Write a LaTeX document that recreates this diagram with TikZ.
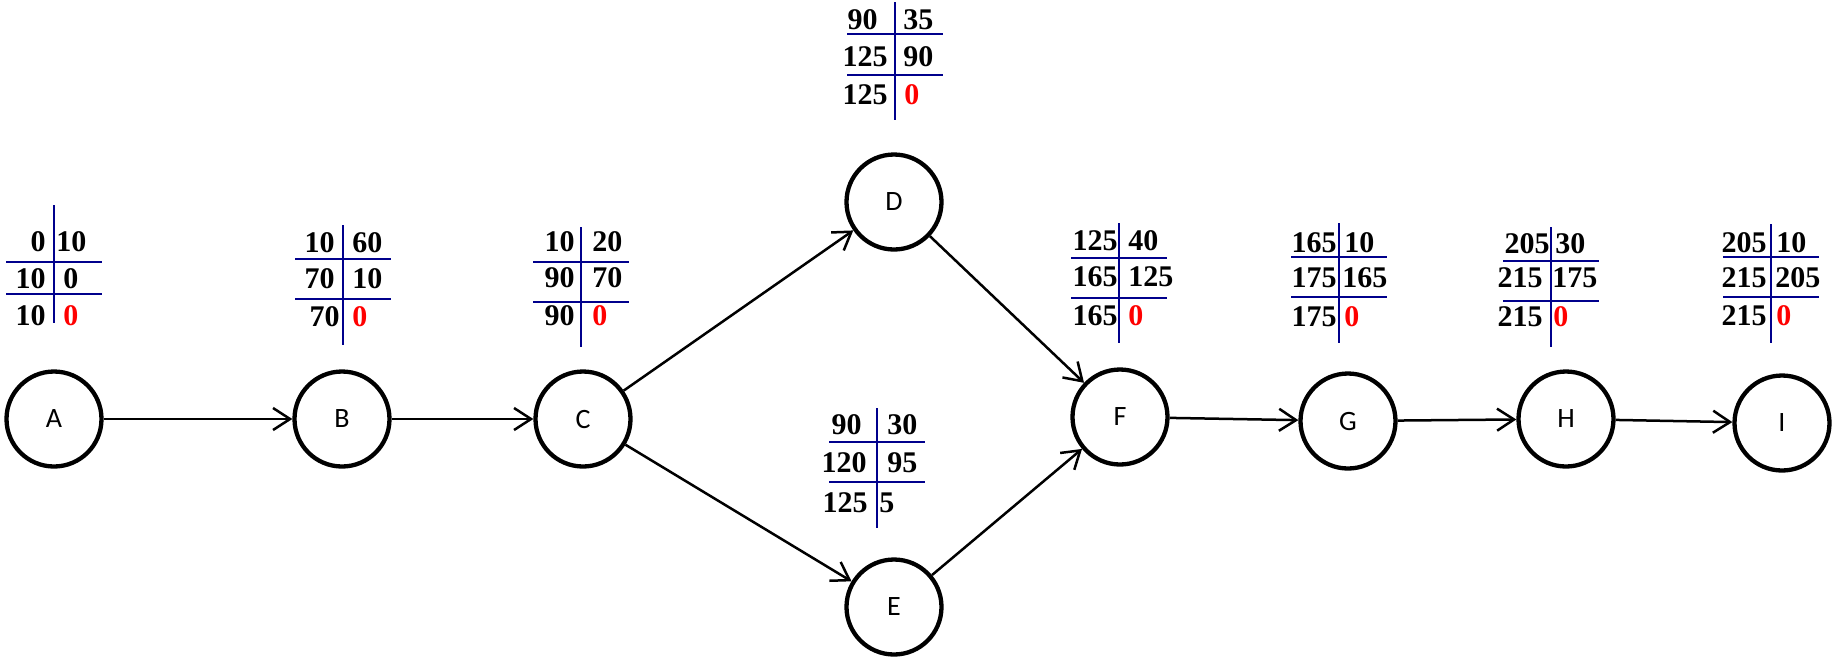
\documentclass[tikz,border=0pt]{standalone}
\usepackage{fontspec}
\setmainfont{Liberation Serif}
\newfontfamily\eventfont{Carlito}
\usepackage{tikz}
\usetikzlibrary{arrows.meta}
\definecolor{rulecol}{RGB}{0,0,140}
\tikzstyle{event} = [circle, draw=black, line width=2.15pt, minimum size=47.5pt, inner sep=0pt, font=\eventfont\fontsize{14}{16}\selectfont]
\tikzstyle{arrow} = [line width=1.25pt, -{Straight Barb[length=8.5pt, width=11pt]}]
\tikzstyle{rule} = [draw=rulecol, line width=1pt]
\tikzstyle{cell} = [inner sep=0pt, font=\bfseries\fontsize{15}{18}\selectfont]
\tikzstyle{lcell} = [cell, anchor=east]
\tikzstyle{rcell} = [cell, anchor=west]
\tikzstyle{crit} = [text=red]
% vertical rule from #1 to #2, horizontal rules at #3 and #4
\newcommand{\tablegrid}[4]{%
  \draw[rule] (0,#1) -- (0,#2);
  \draw[rule] (-48,#3) -- (48,#3);
  \draw[rule] (-48,#4) -- (48,#4);}

\begin{document}
\begin{tikzpicture}[x=0.5pt, y=-0.5pt]
\useasboundingbox (0,0) rectangle (1833,661);
% Define events
\node (A) [event] at (54,419) {A};
\node (B) [event] at (342,419) {B};
\node (C) [event] at (583,419) {C};
\node (D) [event] at (894,202) {D};
\node (E) [event] at (894,607) {E};
\node (F) [event] at (1120,417) {F};
\node (G) [event] at (1348,421) {G};
\node (H) [event] at (1566,419) {H};
\node (I) [event] at (1782,423) {I};
% Connect events with arrows
\draw [arrow] (A) -- (B);
\draw [arrow] (B) -- (C);
\draw [arrow] (C) -- (D);
\draw [arrow] (C) -- (E);
\draw [arrow] (D) -- (F);
\draw [arrow] (E) -- (F);
\draw [arrow] (F) -- (G);
\draw [arrow] (G) -- (H);
\draw [arrow] (H) -- (I);
% Time tables
\begin{scope}[shift={(54,242)}]
  \tablegrid{-37}{81}{20}{52}
  \node (a11) [lcell] at (-8,0) {0};
  \node (a12) [rcell] at (2,0) {10};
  \node (a21) [lcell] at (-8,37) {10};
  \node (a22) [rcell] at (9,37) {0};
  \node (a31) [lcell] at (-8,74) {10};
  \node (a32) [rcell, crit] at (9,74) {0};
\end{scope}
\begin{scope}[shift={(343,243)}]
  \tablegrid{-18}{102}{16}{56}
  \node (b11) [lcell] at (-8,0) {10};
  \node (b12) [rcell] at (9,0) {60};
  \node (b21) [lcell] at (-8,36) {70};
  \node (b22) [rcell] at (9,36) {10};
  \node (b31) [lcell] at (-3,74) {70};
  \node (b32) [rcell, crit] at (9,74) {0};
\end{scope}
\begin{scope}[shift={(581,242)}]
  \tablegrid{-15}{105}{20}{60}
  \node (c11) [lcell] at (-6,0) {10};
  \node (c12) [rcell] at (11,0) {20};
  \node (c21) [lcell] at (-6,36) {90};
  \node (c22) [rcell] at (11,36) {70};
  \node (c31) [lcell] at (-6,74) {90};
  \node (c32) [rcell, crit] at (11,74) {0};
\end{scope}
\begin{scope}[shift={(895,20)}]
  \tablegrid{-18}{100}{14}{55}
  \node (d11) [lcell] at (-17,0) {90};
  \node (d12) [rcell] at (8,0) {35};
  \node (d21) [lcell] at (-7,37) {125};
  \node (d22) [rcell] at (8,37) {90};
  \node (d31) [lcell] at (-7,75) {125};
  \node (d32) [rcell, crit] at (9,75) {0};
\end{scope}
\begin{scope}[shift={(877,425)}]
  \tablegrid{-17}{103}{17}{57}
  \node (e11) [lcell] at (-15,0) {90};
  \node (e12) [rcell] at (10,0) {30};
  \node (e21) [lcell] at (-10,38) {120};
  \node (e22) [rcell] at (10,38) {95};
  \node (e31) [lcell] at (-9,78) {125};
  \node (e32) [rcell] at (2,78) {5};
\end{scope}
\begin{scope}[shift={(1119,241)}]
  \tablegrid{-18}{102}{17}{57}
  \node (f11) [lcell] at (-1,0) {125};
  \node (f12) [rcell] at (9,0) {40};
  \node (f21) [lcell] at (-1,36) {165};
  \node (f22) [rcell] at (9,36) {125};
  \node (f31) [lcell] at (-1,75) {165};
  \node (f32) [rcell, crit] at (9,75) {0};
\end{scope}
\begin{scope}[shift={(1339,243)}]
  \tablegrid{-20}{100}{14}{54}
  \node (g11) [lcell] at (-2,0) {165};
  \node (g12) [rcell] at (5,0) {10};
  \node (g21) [lcell] at (-2,35) {175};
  \node (g22) [rcell] at (3,35) {165};
  \node (g31) [lcell] at (-2,74) {175};
  \node (g32) [rcell, crit] at (5,74) {0};
\end{scope}
\begin{scope}[shift={(1551,244)}]
  \tablegrid{-17}{103}{17}{57}
  \node (h11) [lcell] at (-1,0) {205};
  \node (h12) [rcell] at (4,0) {30};
  \node (h21) [lcell] at (-8,34) {215};
  \node (h22) [rcell] at (1,34) {175};
  \node (h31) [lcell] at (-8,73) {215};
  \node (h32) [rcell, crit] at (2,73) {0};
\end{scope}
\begin{scope}[shift={(1771,243)}]
  \tablegrid{-19}{100}{14}{54}
  \node (i11) [lcell] at (-4,0) {205};
  \node (i12) [rcell] at (5,0) {10};
  \node (i21) [lcell] at (-4,35) {215};
  \node (i22) [rcell] at (4,35) {205};
  \node (i31) [lcell] at (-4,73) {215};
  \node (i32) [rcell, crit] at (5,73) {0};
\end{scope}
\end{tikzpicture}
\end{document}
